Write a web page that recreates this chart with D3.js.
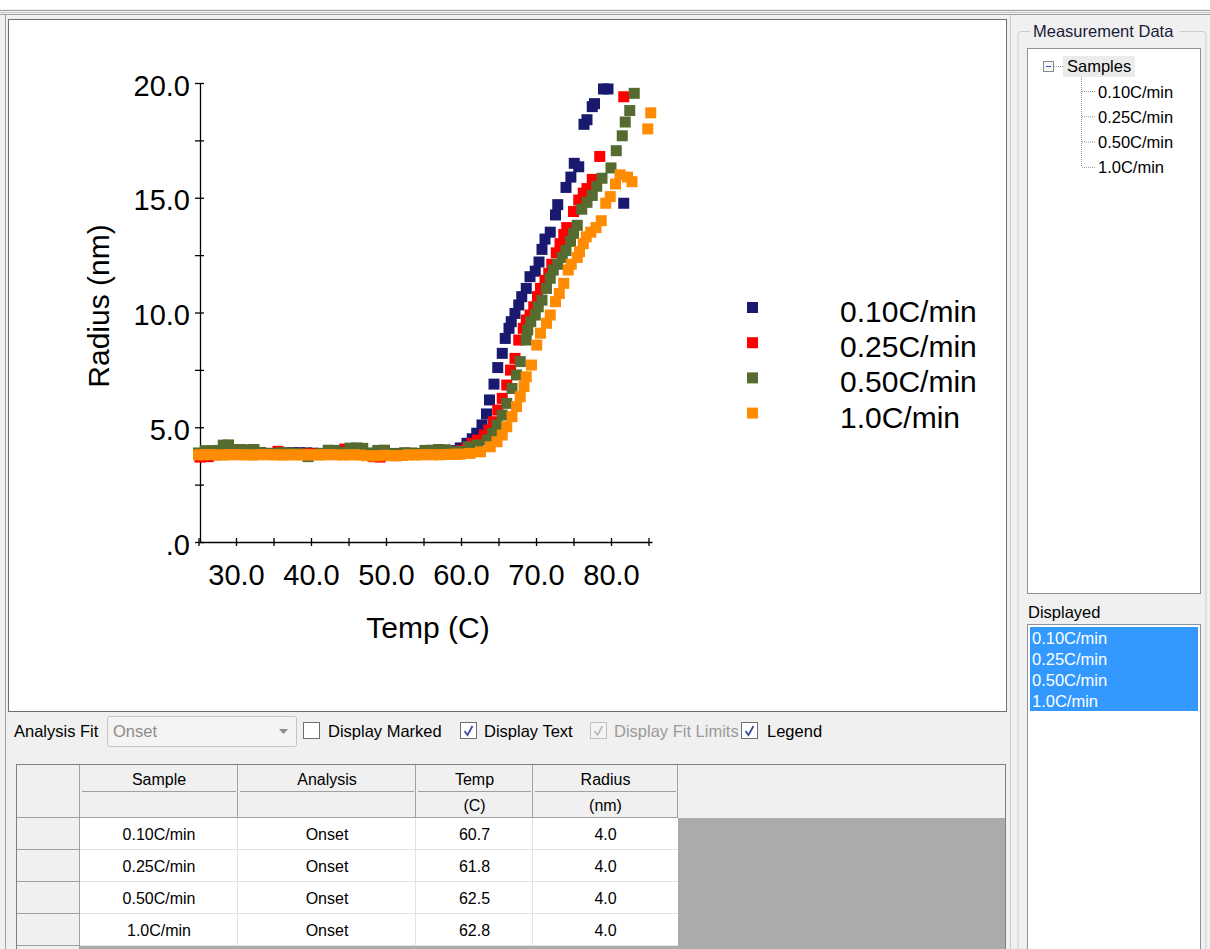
<!DOCTYPE html>
<html>
<head>
<meta charset="utf-8">
<script src="https://cdn.jsdelivr.net/npm/d3@7"></script>
<style>
  html, body { margin: 0; padding: 0; background: #ffffff; }
  svg { display: block; }
  text { font-family: "Liberation Sans", Arial, sans-serif; }
</style>
</head>
<body>
<svg id="app" width="1210" height="949"></svg>
<script>
// ---- Measurement data: [temperature (C), radius (nm)] per ramp rate ----
const sampleNames = ["0.10C/min", "0.25C/min", "0.50C/min", "1.0C/min"];

const points010 = [
  [25.0,3.84],[25.9,3.85],[26.8,3.86],[27.7,3.84],[28.6,3.86],[29.5,3.85],[30.4,3.84],[31.3,3.85],
  [32.2,3.86],[33.1,3.84],[34.0,3.85],[34.9,3.86],[35.8,3.87],[36.7,3.88],[37.6,3.89],[38.5,3.89],
  [39.4,3.88],[40.3,3.87],[41.2,3.85],[42.1,3.84],[43.0,3.86],[43.9,3.85],[44.8,3.84],[45.7,3.86],
  [46.6,3.85],[47.5,3.84],[48.4,3.85],[49.3,3.86],[50.2,3.84],[51.1,3.85],[52.0,3.86],[52.9,3.84],
  [53.8,3.85],[54.7,3.86],[55.6,3.85],[56.5,3.86],[57.4,3.88],[58.3,3.9],[59.2,3.98],[59.9,4.1],
  [60.8,4.3],[61.5,4.5],[62.1,4.74],[62.8,5.1],[63.4,5.58],[63.8,6.19],[64.4,6.88],[64.9,7.6],
  [65.5,8.22],[65.9,8.87],[66.4,9.31],[66.7,9.6],[67.2,9.96],[67.7,10.33],[68.1,10.69],[68.7,11.05],
  [69.2,11.56],[69.9,11.8],[70.4,12.2],[70.8,12.75],[71.2,13.2],[71.9,13.5],[72.6,14.25],[72.9,14.7],
  [74.0,15.45],[74.65,15.9],[75.1,16.5],[75.7,16.35],[76.4,18.2],[76.8,18.4],[77.5,18.97],[77.8,19.1],
  [79.0,19.74],[79.6,19.74],[81.7,14.76]
];

const points025 = [
  [25.2,3.7],[26.3,3.72],[27.2,3.8],[28.1,3.82],[29.0,3.84],[29.9,3.83],[30.8,3.85],[31.7,3.84],
  [32.6,3.86],[33.5,3.85],[34.4,3.86],[35.6,3.95],[36.5,3.86],[37.4,3.85],[38.3,3.84],[39.2,3.86],
  [40.1,3.85],[41.0,3.84],[41.9,3.86],[42.8,3.87],[43.7,3.9],[44.5,4.05],[45.4,3.9],[46.3,3.86],
  [47.2,3.84],[48.3,3.72],[49.2,3.7],[50.1,3.82],[51.0,3.85],[51.9,3.84],[52.8,3.86],[53.7,3.85],
  [54.6,3.84],[55.5,3.86],[56.4,3.88],[57.3,3.87],[58.2,3.9],[59.1,3.92],[60.0,3.98],[60.8,4.1],
  [61.5,4.3],[62.2,4.44],[63.1,4.66],[63.7,4.88],[64.3,5.24],[64.9,5.75],[65.5,6.26],[66.1,6.84],
  [66.6,7.49],[67.2,8.0],[67.7,8.8],[68.3,9.31],[68.7,9.67],[69.2,9.89],[69.7,10.25],[70.2,10.69],
  [70.6,11.05],[71.2,11.4],[71.7,11.7],[72.1,12.1],[72.7,12.6],[73.2,13.0],[73.7,13.4],[74.1,13.7],
  [75.0,14.4],[75.7,14.9],[76.3,15.2],[76.8,15.4],[77.5,15.8],[78.5,16.8],[81.7,19.4]
];

const points050 = [
  [25.0,3.88],[25.9,3.98],[26.8,3.98],[27.6,3.99],[28.3,4.22],[29.0,4.23],[29.7,4.03],[30.6,4.03],
  [31.5,4.02],[32.4,4.03],[33.3,3.9],[34.2,3.86],[35.1,3.85],[36.0,3.89],[36.9,3.88],[37.8,3.86],
  [38.7,3.84],[39.6,3.72],[40.5,3.82],[41.4,3.86],[42.3,4.0],[43.2,3.99],[44.1,3.9],[45.2,4.09],
  [46.1,4.1],[46.9,4.08],[47.8,3.88],[48.9,3.99],[49.8,4.0],[50.7,3.86],[51.6,3.84],[52.5,3.89],
  [53.4,3.88],[54.3,3.84],[55.2,3.99],[56.1,4.0],[57.0,4.03],[57.9,4.02],[58.8,3.93],[59.6,3.94],
  [61.0,4.15],[62.2,4.23],[63.5,4.44],[64.2,4.73],[64.8,5.1],[65.5,5.53],[66.1,6.04],[66.8,6.69],
  [67.4,7.28],[67.9,7.86],[68.7,8.8],[68.9,9.24],[69.3,9.6],[69.9,9.89],[70.3,10.25],[70.8,10.54],
  [71.4,11.05],[71.9,11.49],[72.3,11.85],[72.9,12.1],[73.5,12.4],[74.0,12.7],[74.6,13.1],[75.0,13.45],
  [75.5,13.8],[76.1,14.5],[76.8,14.8],[77.5,15.1],[78.1,15.5],[78.8,15.85],[80.0,16.3],[80.7,17.05],
  [81.5,17.7],[81.9,18.3],[82.5,18.8],[83.1,19.55]
];

const points100 = [
  [25.0,3.8],[25.8,3.8],[26.6,3.81],[27.4,3.8],[28.2,3.79],[29.0,3.8],[29.8,3.81],[30.6,3.8],
  [31.4,3.8],[32.2,3.79],[33.0,3.8],[33.8,3.81],[34.6,3.8],[35.4,3.8],[36.2,3.79],[37.0,3.8],
  [37.8,3.8],[38.6,3.79],[39.4,3.8],[40.2,3.8],[41.0,3.79],[41.8,3.8],[42.6,3.81],[43.4,3.8],
  [44.2,3.79],[45.0,3.8],[45.8,3.8],[46.6,3.79],[47.4,3.76],[48.2,3.75],[49.0,3.76],[49.8,3.78],
  [50.6,3.76],[51.4,3.75],[52.2,3.77],[53.0,3.8],[53.8,3.79],[54.6,3.8],[55.4,3.81],[56.2,3.8],
  [57.0,3.8],[57.8,3.81],[58.6,3.82],[59.3,3.82],[59.9,3.83],[61.2,3.86],[62.6,3.93],[63.9,4.15],
  [64.8,4.37],[65.5,4.66],[66.1,5.02],[66.8,5.46],[67.4,5.9],[67.9,6.33],[68.4,6.77],[68.7,7.2],
  [69.4,7.71],[70.1,8.58],[70.6,9.1],[71.4,9.53],[71.9,9.89],[72.6,10.47],[73.1,10.83],[73.7,11.27],
  [74.3,11.85],[74.7,12.1],[75.5,12.4],[75.8,12.65],[76.3,13.0],[76.7,13.3],[77.3,13.5],[78.0,13.7],
  [78.7,14.0],[79.3,14.76],[79.9,15.05],[80.6,15.6],[81.2,16.0],[82.2,15.9],[82.8,15.7],[84.9,18.0],
  [85.3,18.7]
];

const seriesColors = ["#191970", "#ff0000", "#556b2f", "#ff8c00"];
const seriesPoints = [points010, points025, points050, points100];

// Axis ticks
const xTicks = [25, 30, 35, 40, 45, 50, 55, 60, 65, 70, 75, 80, 85];
const xTickLabels = [30, 40, 50, 60, 70, 80];
const yTicks = [0, 2.5, 5, 7.5, 10, 12.5, 15, 17.5, 20];
const yTickLabels = [0, 5, 10, 15, 20];

// Onset analysis results table
const tableHeaders = ["Sample", "Analysis", "Temp", "Radius"];
const tableUnits = ["", "", "(C)", "(nm)"];
const onsetTemps = [60.7, 61.8, 62.5, 62.8];
const onsetRadii = [4.0, 4.0, 4.0, 4.0];

// Controls shown under the plot
const checkOptions = [
  { label: "Display Marked", checked: false, enabled: true },
  { label: "Display Text", checked: true, enabled: true },
  { label: "Display Fit Limits", checked: true, enabled: false },
  { label: "Legend", checked: true, enabled: true }
];

const svg = d3.select("#app");
const uiFont = '"Liberation Sans", Arial, sans-serif';

// ---------- window background ----------
svg.append("rect").attr("width", 1210).attr("height", 949).attr("fill", "#f0f0f0");
svg.append("rect").attr("width", 1210).attr("height", 9).attr("fill", "#ffffff");
svg.append("line").attr("x1", 0).attr("x2", 1210).attr("y1", 10.5).attr("y2", 10.5).attr("stroke", "#a0a0a0");
svg.append("line").attr("x1", 0).attr("x2", 1210).attr("y1", 12.5).attr("y2", 12.5).attr("stroke", "#c9c9c9");
svg.append("line").attr("x1", 0).attr("x2", 1210).attr("y1", 14.5).attr("y2", 14.5).attr("stroke", "#a0a0a0");
svg.append("line").attr("x1", 5.5).attr("x2", 5.5).attr("y1", 15).attr("y2", 949).attr("stroke", "#a0a0a0");
svg.append("line").attr("x1", 1010.5).attr("x2", 1010.5).attr("y1", 15).attr("y2", 949).attr("stroke", "#c8c8c8");

// ---------- plot panel ----------
svg.append("rect").attr("x", 8.5).attr("y", 19.5).attr("width", 998).attr("height", 692)
  .attr("fill", "#ffffff").attr("stroke", "#6e6e6e");

const x = d3.scaleLinear().domain([25, 85]).range([198.5, 648.5]);
const y = d3.scaleLinear().domain([0, 20]).range([542, 83]);

const fmt = d => d === 0 ? ".0" : d3.format(".1f")(d);

// Y axis
const yAxis = svg.append("g").attr("transform", "translate(200,0)")
  .call(d3.axisLeft(y).tickValues(yTicks).tickSize(0).tickPadding(10)
    .tickFormat(d => yTickLabels.includes(d) ? fmt(d) : ""));
yAxis.select(".domain").attr("stroke", "#000").attr("stroke-width", 1.3).attr("d", `M0.5,${y(20)}V${y(0)}`);
yAxis.selectAll(".tick line").attr("x1", -5).attr("x2", 4).attr("stroke", "#000").attr("stroke-width", 1.3);
yAxis.selectAll(".tick text").attr("font-size", 29).attr("fill", "#000")
  .attr("font-family", uiFont).attr("dy", "0.42em");

// X axis
const xAxis = svg.append("g").attr("transform", `translate(0,${y(0)})`)
  .call(d3.axisBottom(x).tickValues(xTicks).tickSize(0)
    .tickFormat(d => xTickLabels.includes(d) ? fmt(d) : ""));
xAxis.select(".domain").attr("stroke", "#000").attr("stroke-width", 1.3).attr("d", `M${x(25)},0.5H${x(85) + 4}`);
xAxis.selectAll(".tick line").attr("y1", -4).attr("y2", 4).attr("stroke", "#000").attr("stroke-width", 1.3);
xAxis.selectAll(".tick text").attr("font-size", 29).attr("fill", "#000")
  .attr("font-family", uiFont).attr("y", 43).attr("dy", null);

// Axis titles
svg.append("text").attr("x", 428).attr("y", 638).attr("text-anchor", "middle")
  .attr("font-size", 30).attr("fill", "#000").text("Temp (C)");
svg.append("text").attr("transform", "translate(109,306) rotate(-90)").attr("text-anchor", "middle")
  .attr("font-size", 30).attr("fill", "#000").text("Radius (nm)");

// Data markers
const marker = 11;
seriesPoints.forEach((pts, i) => {
  svg.append("g").selectAll("rect").data(pts).join("rect")
    .attr("x", d => x(d[0]) - marker / 2)
    .attr("y", d => y(d[1]) - marker / 2)
    .attr("width", marker).attr("height", marker)
    .attr("fill", seriesColors[i]);
});

// Legend
const legend = svg.append("g");
sampleNames.forEach((name, i) => {
  const cy = 307.5 + i * 35.2;
  legend.append("rect").attr("x", 747).attr("y", cy - 5.5).attr("width", 11).attr("height", 11)
    .attr("fill", seriesColors[i]);
  legend.append("text").attr("x", 840).attr("y", cy + 14.5).attr("font-size", 30)
    .attr("fill", "#000").text(name);
});

// ---------- controls row ----------
const ctl = svg.append("g").attr("font-family", uiFont).attr("font-size", 16.5);
ctl.append("text").attr("x", 14).attr("y", 737).attr("fill", "#000").text("Analysis Fit");
ctl.append("rect").attr("x", 107.5).attr("y", 716.5).attr("width", 189).attr("height", 30).attr("rx", 2)
  .attr("fill", "#f4f4f4").attr("stroke", "#c4c4c4");
ctl.append("text").attr("x", 113).attr("y", 737).attr("fill", "#8c8c8c").text("Onset");
ctl.append("path").attr("d", "M279,729 h9 l-4.5,5 z").attr("fill", "#8c8c8c");

const boxX = [303, 460, 590, 741];
const labelX = [328, 484, 614, 767];
checkOptions.forEach((o, i) => {
  const bx = boxX[i];
  ctl.append("rect").attr("x", bx + 0.5).attr("y", 722.5).attr("width", 16).attr("height", 16)
    .attr("fill", o.enabled ? "#ffffff" : "#f4f4f4").attr("stroke", o.enabled ? "#6f6f6f" : "#c0c0c0");
  if (o.checked) {
    ctl.append("path").attr("d", `M${bx + 4.5},${731} l3,4 l5,-9`).attr("fill", "none")
      .attr("stroke", o.enabled ? "#3b4f9c" : "#bdbdbd").attr("stroke-width", 1.8);
  }
  ctl.append("text").attr("x", labelX[i]).attr("y", 737)
    .attr("fill", o.enabled ? "#000" : "#9a9a9a").text(o.label);
});

// ---------- results table ----------
const colEdges = [17, 80, 238, 416, 533, 678, 1005];
const rowEdges = [765, 792, 818, 850, 882, 914, 946];
const tbl = svg.append("g").attr("font-family", uiFont).attr("font-size", 16);
tbl.append("rect").attr("x", colEdges[0]).attr("y", rowEdges[0]).attr("width", colEdges[6] - colEdges[0])
  .attr("height", 949 - rowEdges[0]).attr("fill", "#ababab");
// header band
tbl.append("rect").attr("x", colEdges[0]).attr("y", rowEdges[0]).attr("width", colEdges[6] - colEdges[0])
  .attr("height", rowEdges[2] - rowEdges[0]).attr("fill", "#f0f0f0");
// row header column
tbl.append("rect").attr("x", colEdges[0]).attr("y", rowEdges[0]).attr("width", colEdges[1] - colEdges[0])
  .attr("height", 949 - rowEdges[0]).attr("fill", "#f0f0f0");
// data cells
tbl.append("rect").attr("x", colEdges[1]).attr("y", rowEdges[2]).attr("width", colEdges[5] - colEdges[1])
  .attr("height", rowEdges[6] - rowEdges[2]).attr("fill", "#ffffff");
// grid
for (let r = 3; r <= 6; r++) {
  tbl.append("line").attr("x1", colEdges[1]).attr("x2", colEdges[5]).attr("y1", rowEdges[r] - 0.5).attr("y2", rowEdges[r] - 0.5)
    .attr("stroke", "#e2e2e2");
}
for (let c = 2; c <= 4; c++) {
  tbl.append("line").attr("x1", colEdges[c] - 0.5).attr("x2", colEdges[c] - 0.5).attr("y1", rowEdges[2]).attr("y2", rowEdges[6])
    .attr("stroke", "#e2e2e2");
}
// header cell borders
for (let c = 1; c <= 5; c++) {
  tbl.append("line").attr("x1", colEdges[c] - 0.5).attr("x2", colEdges[c] - 0.5).attr("y1", rowEdges[0]).attr("y2", rowEdges[2])
    .attr("stroke", "#a0a0a0");
}
tbl.append("line").attr("x1", colEdges[1] - 0.5).attr("x2", colEdges[1] - 0.5).attr("y1", rowEdges[2]).attr("y2", 949)
  .attr("stroke", "#a0a0a0");
for (let c = 1; c < 5; c++) {
  tbl.append("line").attr("x1", colEdges[c] + 2).attr("x2", colEdges[c + 1] - 2).attr("y1", rowEdges[1] - 0.5).attr("y2", rowEdges[1] - 0.5)
    .attr("stroke", "#a0a0a0");
}
tbl.append("line").attr("x1", colEdges[0]).attr("x2", colEdges[5]).attr("y1", rowEdges[2] - 0.5).attr("y2", rowEdges[2] - 0.5)
  .attr("stroke", "#a0a0a0");
for (let r = 3; r <= 6; r++) {
  tbl.append("line").attr("x1", colEdges[0]).attr("x2", colEdges[1]).attr("y1", rowEdges[r] - 0.5).attr("y2", rowEdges[r] - 0.5)
    .attr("stroke", "#a0a0a0");
}
tbl.append("rect").attr("x", colEdges[0] - 0.5).attr("y", rowEdges[0] - 0.5).attr("width", colEdges[6] - colEdges[0] + 1)
  .attr("height", 949 - rowEdges[0] + 5).attr("fill", "none").attr("stroke", "#808080");

const colCenter = c => (colEdges[c + 1] + colEdges[c + 2]) / 2;
tableHeaders.forEach((h, i) => {
  tbl.append("text").attr("x", colCenter(i)).attr("y", 785).attr("text-anchor", "middle").attr("fill", "#000").text(h);
  if (tableUnits[i]) tbl.append("text").attr("x", colCenter(i)).attr("y", 811).attr("text-anchor", "middle").attr("fill", "#000").text(tableUnits[i]);
});
sampleNames.forEach((name, r) => {
  const by = rowEdges[r + 2] + 22;
  const cells = [name, "Onset", d3.format(".1f")(onsetTemps[r]), d3.format(".1f")(onsetRadii[r])];
  cells.forEach((v, i) => {
    tbl.append("text").attr("x", colCenter(i)).attr("y", by).attr("text-anchor", "middle").attr("fill", "#000").text(v);
  });
});

// ---------- side panel ----------
const side = svg.append("g").attr("font-family", uiFont).attr("font-size", 16.5);
side.append("path").attr("d", "M1030,31.5 H1021 q-3,0 -3,3 V949 M1180,31.5 H1203 q3,0 3,3 V949")
  .attr("fill", "none").attr("stroke", "#c9cdd2");
side.append("text").attr("x", 1033).attr("y", 37).attr("fill", "#1b1b3a").text("Measurement Data");
side.append("rect").attr("x", 1027.5).attr("y", 48.5).attr("width", 173).attr("height", 545)
  .attr("fill", "#ffffff").attr("stroke", "#8d9299");
// tree
side.append("rect").attr("x", 1063).attr("y", 56).attr("width", 72).attr("height", 21).attr("fill", "#ebebeb");
side.append("rect").attr("x", 1043.5).attr("y", 61.5).attr("width", 10).attr("height", 10)
  .attr("fill", "#f6f6f6").attr("stroke", "#8a8a8a");
side.append("line").attr("x1", 1046).attr("x2", 1051).attr("y1", 66.5).attr("y2", 66.5).attr("stroke", "#2a52be");
side.append("line").attr("x1", 1054).attr("x2", 1063).attr("y1", 66.5).attr("y2", 66.5)
  .attr("stroke", "#9a9a9a").attr("stroke-dasharray", "1,1");
side.append("text").attr("x", 1067).attr("y", 72).attr("fill", "#000").text("Samples");
side.append("line").attr("x1", 1081.5).attr("x2", 1081.5).attr("y1", 77).attr("y2", 167)
  .attr("stroke", "#9a9a9a").attr("stroke-dasharray", "1,1");
sampleNames.forEach((name, i) => {
  const cy = 91.5 + i * 25.3;
  side.append("line").attr("x1", 1082).attr("x2", 1095).attr("y1", cy).attr("y2", cy)
    .attr("stroke", "#9a9a9a").attr("stroke-dasharray", "1,1");
  side.append("text").attr("x", 1098).attr("y", cy + 6).attr("fill", "#000").text(name);
});
// displayed list
side.append("text").attr("x", 1028).attr("y", 618).attr("fill", "#000").text("Displayed");
side.append("rect").attr("x", 1027.5).attr("y", 624.5).attr("width", 173).attr("height", 330)
  .attr("fill", "#ffffff").attr("stroke", "#8d9299");
side.append("rect").attr("x", 1030).attr("y", 627).attr("width", 168).attr("height", 84).attr("fill", "#3399ff");
sampleNames.forEach((name, i) => {
  side.append("text").attr("x", 1032).attr("y", 643.5 + i * 21).attr("fill", "#ffffff").text(name);
});
</script>
</body>
</html>
